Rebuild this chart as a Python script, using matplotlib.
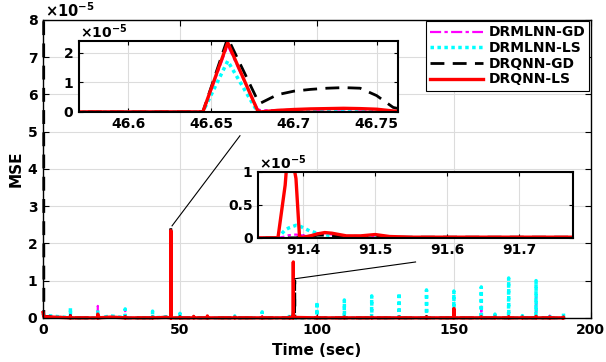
import numpy as np
import matplotlib
matplotlib.use("Agg")
import matplotlib.pyplot as plt
from matplotlib.transforms import Bbox, TransformedBbox

plt.rcParams['font.family'] = ['DejaVu Sans']
plt.rcParams['font.weight'] = 'bold'

# all MSE values in units of 1e-5
labels = ['DRMLNN-GD', 'DRMLNN-LS', 'DRQNN-GD', 'DRQNN-LS']

# coarse baseline levels
base_t = [0.0, 0.3, 25, 45, 60, 100, 140, 190]
base_mlgd = [0.10, 0.05, 0.03, 0.02, 0.02, 0.02, 0.02, 0.02]
base_mlls = [0.12, 0.07, 0.05, 0.02, 0.01, 0.01, 0.01, 0.01]
base_qgd = [40.0, 0.04, 0.02, 0.02, 0.02, 0.02, 0.02, 0.02]
base_qls = [0.14, 0.03, 0.02, 0.01, 0.01, 0.01, 0.01, 0.01]

# periodic spikes
spike_t = [10, 20, 30, 40, 50, 55, 60, 70, 80, 90, 100, 110, 120, 130, 140,
           150, 160, 165, 170, 175, 180, 185, 190]
spk_mlgd = [0.08, 0.32, 0.22, 0.04, 0.05, 0.02, 0.03, 0.02, 0.04, 0.03, 0.03,
            0.03, 0.03, 0.03, 0.05, 0.05, 0.30, 0.04, 0.05, 0.03, 0.56, 0.06, 0.05]
spk_mlls = [0.27, 0.20, 0.24, 0.18, 0.12, 0.03, 0.08, 0.05, 0.16, 0.12, 0.43,
            0.48, 0.59, 0.67, 0.75, 0.72, 0.83, 0.10, 1.07, 0.06, 1.00, 0.10, 0.12]
spk_qgd = [0.10, 0.04, 0.03, 0.02, 0.03, 0.02, 0.03, 0.02, 0.02, 0.02, 0.02,
           0.02, 0.02, 0.02, 0.04, 0.03, 0.02, 0.02, 0.02, 0.02, 0.03, 0.02, 0.02]
spk_qls = [0.04, 0.10, 0.03, 0.02, 0.02, 0.04, 0.05, 0.02, 0.02, 0.02, 0.02,
           0.02, 0.02, 0.02, 0.02, 0.25, 0.03, 0.02, 0.03, 0.02, 0.04, 0.02, 0.02]

# detail around t = 46.66 s (inset 1)
d1_t = [46.57, 46.60, 46.63, 46.64, 46.645, 46.66, 46.678, 46.68, 46.69, 46.70,
        46.71, 46.72, 46.73, 46.74, 46.75, 46.76, 46.77]
d1_mlgd = [0, 0, 0, 0, 0.0, 2.25, 0.10, 0.05, 0.06, 0.07, 0.07, 0.08, 0.08, 0.08, 0.06, 0.02, 0]
d1_mlls = [0, 0, 0, 0, 0.0, 1.72, 0.00, 0.00, 0.00, 0.00, 0.00, 0.00, 0.00, 0.00, 0.00, 0.00, 0]
d1_qgd = [0, 0, 0, 0, 0.0, 2.50, 0.40, 0.30, 0.58, 0.70, 0.76, 0.80, 0.82, 0.80, 0.55, 0.15, 0.02]
d1_qls = [0, 0, 0, 0, 0.0, 2.34, 0.05, 0.00, 0.05, 0.08, 0.10, 0.11, 0.12, 0.11, 0.09, 0.03, 0]

# detail around t = 91.38 s (inset 2)
d2_t = [91.335, 91.365, 91.375, 91.38, 91.39, 91.395, 91.41, 91.42, 91.43, 91.44,
        91.46, 91.48, 91.50, 91.52, 91.55, 91.70, 91.775]
d2_mlgd = [0, 0, 0.02, 0.04, 0.05, 0.04, 0.03, 0.07, 0.07, 0.05, 0.02, 0.02, 0.03, 0.01, 0.01, 0.01, 0.01]
d2_mlls = [0, 0, 0.12, 0.15, 0.19, 0.18, 0.10, 0.07, 0.05, 0.03, 0.02, 0.02, 0.03, 0.01, 0.00, 0.00, 0.00]
d2_qgd = [0, 0, 0.00, 0.00, 0.00, 0.01, 0.02, 0.04, 0.04, 0.03, 0.02, 0.02, 0.03, 0.01, 0.01, 0.01, 0.01]
d2_qls = [0, 0, 0.80, 1.50, 0.90, 0.00, 0.03, 0.06, 0.08, 0.07, 0.03, 0.03, 0.05, 0.02, 0.01, 0.01, 0.01]

# late DRQNN-GD spike just after inset 2
gd_late_t = [91.9]
gd_late_v = [1.0]


def build(base_v, spk_v, d1_v, d2_v, extra_t=(), extra_v=()):
    pts = list(zip(base_t, base_v))
    for t, v in list(zip(spike_t, spk_v)) + list(zip(extra_t, extra_v)):
        pts += [(t - 0.05, 0.0), (t, v), (t + 0.05, 0.0)]
    pts += list(zip(d1_t, d1_v)) + list(zip(d2_t, d2_v))
    pts.sort()
    a = np.array(pts)
    return a[:, 0], a[:, 1]


series = [
    build(base_mlgd, spk_mlgd, d1_mlgd, d2_mlgd),
    build(base_mlls, spk_mlls, d1_mlls, d2_mlls),
    build(base_qgd, spk_qgd, d1_qgd, d2_qgd, gd_late_t, gd_late_v),
    build(base_qls, spk_qls, d1_qls, d2_qls),
]
styles = [
    dict(color='#ff00ff', ls=(0, (5, 1.5, 1.5, 1.5)), lw=1.6),
    dict(color='#00ffff', ls=(0, (1, 1)), lw=2.5),
    dict(color='black', ls=(0, (5, 3)), lw=2.0),
    dict(color='#ff0000', ls='-', lw=2.4),
]

fig = plt.figure(figsize=(6.06, 3.62), dpi=100)
ax = fig.add_axes([0.071, 0.122, 0.904, 0.823])
# let lines spill a little over the left spine, as in the original
clip = TransformedBbox(Bbox([[-0.006, -0.006], [1.0, 1.0]]), ax.transAxes)
for (t, v), st, lab in zip(series, styles, labels):
    ln, = ax.plot(t, v, label=lab, **st)
    ln.set_clip_box(clip)
ax.set_xlim(0, 200)
ax.set_ylim(0, 8)
ax.set_xticks([0, 50, 100, 150, 200])
ax.set_yticks(range(9))
ax.grid(True, color='#dcdcdc', lw=0.8)
ax.tick_params(direction='in', top=True, right=True, labelsize=10, length=4, pad=4)
for s in ax.spines.values():
    s.set_linewidth(1.0)
ax.set_xlabel('Time (sec)', fontsize=11, fontweight='bold', labelpad=4)
ax.set_ylabel('MSE', fontsize=11, fontweight='bold', labelpad=3)
ax.text(0.003, 1.0, r'$\times10^{-5}$', transform=ax.transAxes, fontsize=10.5,
        ha='left', va='bottom')
leg = ax.legend(loc='upper right', fontsize=10, frameon=True, fancybox=False,
                framealpha=1, edgecolor='black', borderaxespad=0.1,
                handlelength=3.8, handletextpad=0.4, labelspacing=0.12,
                borderpad=0.3)
leg.get_frame().set_linewidth(0.8)
leg.set_zorder(20)

# connector lines to the zoom insets
ax.plot([47.1, 71.9], [2.47, 4.89], color='black', lw=0.8)
ax.plot([92.0, 136.0], [1.05, 1.50], color='black', lw=0.8)


def inset(rect, xlim, ylim, xt, yt):
    ia = fig.add_axes(rect)
    ia.set_zorder(10)
    for (t, v), st in zip(series, styles):
        ia.plot(t, v, **st)
    ia.set_xlim(*xlim)
    ia.set_ylim(*ylim)
    ia.set_xticks(xt)
    ia.set_xticklabels(['%g' % x for x in xt])
    ia.set_yticks(yt)
    ia.set_yticklabels(['%g' % y for y in yt])
    ia.grid(True, color='#dcdcdc', lw=0.8)
    ia.tick_params(direction='in', top=True, right=True, labelsize=10,
                   length=3, pad=4)
    for s in ia.spines.values():
        s.set_linewidth(1.5)
    ia.text(0.003, 1.0, r'$\times10^{-5}$', transform=ia.transAxes, fontsize=10,
            ha='left', va='bottom')
    return ia


inset([0.130, 0.691, 0.527, 0.196], (46.57, 46.763), (0, 2.4),
      [46.6, 46.65, 46.7, 46.75], [0, 1, 2])
inset([0.426, 0.343, 0.520, 0.182], (91.3375, 91.775), (0, 1.0),
      [91.4, 91.5, 91.6, 91.7], [0, 0.5, 1])

fig.savefig('out.png', dpi=100)
